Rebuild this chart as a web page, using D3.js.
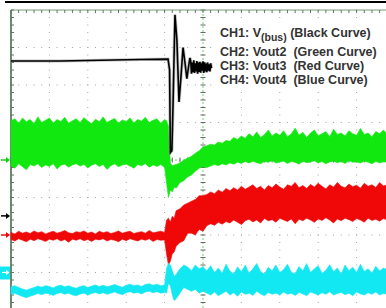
<!DOCTYPE html>
<html><head><meta charset="utf-8">
<script src="https://cdn.jsdelivr.net/npm/d3@7"></script>
<style>html,body{margin:0;padding:0;background:#fff;overflow:hidden}svg{display:block}</style>
</head><body>
<svg id="c" width="386" height="308"></svg>
<script>
// ---- data (screen divisions: time -5..5, amplitude -4..4) ----
const ch1Time = [-5,-3.72,-2.68,-1.64,-0.91,-0.87,-0.85,-0.81,-0.78,-0.73,-0.68,-0.625,-0.57,-0.52,-0.47,-0.42,-0.36,-0.34,
  -0.32,-0.30,-0.28,-0.26,-0.24,-0.22,-0.20,-0.18,-0.16,-0.14,-0.12,-0.10,-0.08,-0.06,-0.04,-0.02,0.0,0.02,0.04,0.06,0.08,0.10,0.12,0.14,0.16,0.18,0.20,0.22];
const ch1Value = [2.64,2.64,2.66,2.68,2.69,2.4,0.2,0.25,1.5,3.87,3.2,1.55,2.27,3.0,2.6,2.17,2.6,2.72,
  2.64,2.3,2.6,2.34,2.66,2.32,2.58,2.36,2.64,2.3,2.6,2.35,2.62,2.33,2.58,2.38,2.63,2.32,2.6,2.36,2.57,2.34,2.6,2.38,2.55,2.36,2.58,2.45];

const time = [
  -5.0,-4.9,-4.8,-4.7,-4.6,-4.5,-4.4,-4.3,-4.2,-4.1,-4.0,-3.9,-3.8,-3.7,-3.6,-3.5,-3.4,-3.3,-3.2,-3.1,
  -3.0,-2.9,-2.8,-2.7,-2.6,-2.5,-2.4,-2.3,-2.2,-2.1,-2.0,-1.9,-1.8,-1.7,-1.6,-1.5,-1.4,-1.3,-1.2,-1.1,-1.0,
  -0.95,-0.9,-0.85,-0.8,-0.75,-0.7,-0.6,-0.5,-0.4,-0.3,-0.2,-0.1,0.0,
  0.1,0.2,0.3,0.4,0.5,0.6,0.7,0.8,0.9,1.0,1.1,1.2,1.3,1.4,1.5,1.6,1.7,1.8,1.9,2.0,
  2.1,2.2,2.3,2.4,2.5,2.6,2.7,2.8,2.9,3.0,3.1,3.2,3.3,3.4,3.5,3.6,3.7,3.8,3.9,4.0,
  4.1,4.2,4.3,4.4,4.5,4.6,4.7,4.8];

const ch2Max = [
  1.05,1.1,0.98,1.12,1.02,1.08,0.97,1.15,1.0,1.06,1.12,0.99,1.08,1.03,1.14,0.98,1.05,1.1,1.0,1.13,
  1.04,0.97,1.09,1.02,1.15,1.0,1.06,1.11,0.98,1.07,1.03,1.12,0.99,1.08,1.04,1.14,1.0,1.06,1.1,0.98,1.08,
  1.05,0.9,-0.08,-0.15,-0.13,-0.12,-0.08,0.0,0.05,0.1,0.18,0.25,0.35,
  0.38,0.42,0.4,0.48,0.45,0.52,0.5,0.6,0.55,0.64,0.58,0.7,0.62,0.75,0.6,0.68,0.8,0.64,0.72,0.66,
  0.78,0.62,0.7,0.85,0.66,0.74,0.6,0.72,0.8,0.65,0.7,0.76,0.62,0.82,0.68,0.72,0.64,0.78,0.7,0.66,
  0.84,0.68,0.72,0.62,0.76,0.7,0.8,0.68];
const ch2Min = [
  -0.15,-0.22,-0.1,-0.18,-0.26,-0.12,-0.16,-0.1,-0.2,-0.13,-0.17,-0.1,-0.24,-0.14,-0.11,-0.19,-0.13,-0.1,-0.16,-0.12,
  -0.21,-0.14,-0.1,-0.17,-0.12,-0.25,-0.15,-0.1,-0.18,-0.13,-0.11,-0.16,-0.22,-0.12,-0.15,-0.1,-0.19,-0.13,-0.17,-0.12,-0.2,
  -0.6,-1.0,-0.8,-0.85,-0.72,-0.75,-0.6,-0.55,-0.45,-0.4,-0.3,-0.22,-0.18,
  -0.2,-0.16,-0.12,-0.15,-0.1,-0.13,-0.08,-0.11,-0.06,-0.09,-0.04,-0.08,-0.03,-0.07,-0.1,-0.04,-0.06,-0.02,-0.08,-0.05,
  -0.03,-0.09,-0.04,-0.06,-0.11,-0.03,-0.07,-0.05,-0.02,-0.08,-0.04,-0.1,-0.05,-0.03,-0.07,-0.04,-0.09,-0.02,-0.06,-0.05,
  -0.08,-0.03,-0.06,-0.1,-0.04,-0.07,-0.05,-0.06];

const ch3Max = [
  -1.93,-1.97,-1.9,-1.95,-1.92,-1.96,-1.89,-1.94,-1.91,-1.97,-1.93,-1.9,-1.95,-1.92,-1.88,-1.94,-1.96,-1.91,-1.93,-1.89,
  -1.95,-1.92,-1.97,-1.9,-1.94,-1.91,-1.96,-1.93,-1.89,-1.95,-1.92,-1.9,-1.96,-1.93,-1.91,-1.95,-1.88,-1.94,-1.92,-1.9,-1.93,
  -1.6,-1.55,-1.65,-1.5,-1.55,-1.35,-1.3,-1.2,-1.15,-1.1,-1.05,-0.95,-0.95,
  -0.92,-0.85,-0.9,-0.8,-0.86,-0.76,-0.82,-0.74,-0.8,-0.7,-0.78,-0.72,-0.66,-0.76,-0.7,-0.8,-0.68,-0.74,-0.64,-0.72,
  -0.78,-0.66,-0.7,-0.6,-0.74,-0.68,-0.76,-0.65,-0.72,-0.62,-0.7,-0.77,-0.66,-0.72,-0.6,-0.7,-0.74,-0.64,-0.71,-0.67,
  -0.75,-0.62,-0.7,-0.66,-0.73,-0.6,-0.69,-0.66];
const ch3Min = [
  -2.12,-2.16,-2.1,-2.14,-2.18,-2.11,-2.15,-2.1,-2.13,-2.17,-2.11,-2.14,-2.1,-2.16,-2.12,-2.19,-2.11,-2.14,-2.1,-2.15,
  -2.12,-2.17,-2.11,-2.13,-2.1,-2.16,-2.12,-2.14,-2.18,-2.11,-2.15,-2.1,-2.13,-2.16,-2.11,-2.14,-2.1,-2.17,-2.12,-2.14,-2.13,
  -2.5,-2.8,-2.7,-2.5,-2.45,-2.3,-2.2,-2.15,-1.95,-1.95,-2.0,-1.85,-1.9,
  -1.75,-1.7,-1.74,-1.66,-1.71,-1.64,-1.68,-1.6,-1.66,-1.72,-1.62,-1.58,-1.65,-1.6,-1.68,-1.56,-1.62,-1.59,-1.66,-1.55,
  -1.6,-1.64,-1.57,-1.7,-1.58,-1.62,-1.55,-1.6,-1.66,-1.57,-1.61,-1.54,-1.6,-1.68,-1.57,-1.62,-1.55,-1.59,-1.64,-1.56,
  -1.6,-1.66,-1.55,-1.61,-1.58,-1.63,-1.56,-1.6];

const ch4Max = [
  -3.38,-3.35,-3.4,-3.44,-3.47,-3.43,-3.4,-3.36,-3.39,-3.35,-3.37,-3.41,-3.36,-3.34,-3.38,-3.35,-3.39,-3.42,-3.37,-3.35,
  -3.4,-3.36,-3.33,-3.37,-3.34,-3.38,-3.35,-3.32,-3.36,-3.39,-3.34,-3.31,-3.35,-3.33,-3.37,-3.32,-3.3,-3.34,-3.31,-3.35,-3.33,
  -2.9,-2.75,-2.8,-2.95,-3.1,-3.05,-2.9,-2.8,-2.85,-2.95,-2.8,-2.9,-2.85,
  -2.95,-2.82,-3.0,-2.88,-3.02,-2.78,-2.96,-3.04,-2.85,-2.98,-2.8,-3.02,-2.9,-2.76,-2.98,-3.04,-2.86,-2.95,-2.8,-3.0,
  -2.92,-2.78,-2.99,-3.03,-2.84,-2.96,-2.76,-3.0,-2.9,-2.82,-3.02,-2.94,-2.79,-2.98,-2.88,-3.04,-2.8,-2.95,-2.86,-3.0,
  -2.78,-2.97,-2.9,-3.02,-2.83,-2.96,-2.88,-2.92];
const ch4Min = [
  -3.58,-3.55,-3.6,-3.64,-3.67,-3.63,-3.6,-3.56,-3.59,-3.55,-3.57,-3.61,-3.56,-3.54,-3.58,-3.55,-3.6,-3.62,-3.57,-3.55,
  -3.6,-3.56,-3.53,-3.57,-3.54,-3.58,-3.55,-3.52,-3.56,-3.59,-3.54,-3.51,-3.55,-3.53,-3.57,-3.52,-3.5,-3.54,-3.51,-3.55,-3.53,
  -3.55,-3.3,-3.35,-3.6,-3.75,-3.7,-3.55,-3.4,-3.45,-3.5,-3.45,-3.55,-3.5,
  -3.55,-3.6,-3.52,-3.62,-3.56,-3.5,-3.6,-3.54,-3.63,-3.52,-3.58,-3.55,-3.61,-3.5,-3.57,-3.62,-3.53,-3.58,-3.55,-3.6,
  -3.52,-3.58,-3.55,-3.61,-3.53,-3.57,-3.62,-3.52,-3.56,-3.6,-3.54,-3.58,-3.51,-3.6,-3.56,-3.53,-3.59,-3.55,-3.62,-3.52,
  -3.57,-3.6,-3.54,-3.58,-3.52,-3.6,-3.56,-3.58];

const groundLevels = [0, -1.49, -2.0, -3.0];   // CH2, CH1, CH3, CH4 markers
const legendLines = ["CH2: Vout2  (Green Curve)", "CH3: Vout3  (Red Curve)", "CH4: Vout4  (Blue Curve)"];

// ---- drawing ----
const svg = d3.select("#c");
const x = d3.scaleLinear().domain([-5, 5]).range([11, 395]);
const y = d3.scaleLinear().domain([-4, 4]).range([310, 10]);

// top black bar
svg.append("rect").attr("x", 5).attr("y", 1).attr("width", 381).attr("height", 2).attr("fill", "#000");

// grid dots
const g = svg.append("g");
const minorX = d3.range(-5, 5.001, 0.2), minorY = d3.range(-4, 4.001, 0.2);
for (let k = -4; k <= 4; k++) {
  if (k === 0) continue;
  g.selectAll(null).data(minorY).enter().append("rect")
    .attr("x", x(k) - 0.5).attr("y", d => y(d) - 0.5).attr("width", 1).attr("height", 1).attr("fill", "#9a9");
}
for (let k = -3; k <= 3; k++) {
  if (k === 0) continue;
  g.selectAll(null).data(minorX).enter().append("rect")
    .attr("x", d => x(d) - 0.5).attr("y", y(k) - 0.5).attr("width", 1).attr("height", 1).attr("fill", "#9a9");
}
// center axes with ticks
g.append("line").attr("x1", x(0)).attr("x2", x(0)).attr("y1", y(4)).attr("y2", y(-4))
  .attr("stroke", "#7c7").attr("stroke-dasharray", "2,2");
g.append("line").attr("x1", x(-5)).attr("x2", x(5)).attr("y1", y(0)).attr("y2", y(0))
  .attr("stroke", "#7c7").attr("stroke-dasharray", "2,2");
g.selectAll(null).data(minorY).enter().append("line")
  .attr("x1", x(0) - 2.5).attr("x2", x(0) + 2.5).attr("y1", d => y(d)).attr("y2", d => y(d)).attr("stroke", "#666");
g.selectAll(null).data(minorX).enter().append("line")
  .attr("y1", y(0) - 2.5).attr("y2", y(0) + 2.5).attr("x1", d => x(d)).attr("x2", d => x(d)).attr("stroke", "#666");
// frame
g.append("line").attr("x1", x(-5)).attr("x2", 386).attr("y1", y(4)).attr("y2", y(4)).attr("stroke", "#7a9a7a");
g.append("line").attr("x1", x(-5)).attr("x2", x(-5)).attr("y1", y(4)).attr("y2", 308).attr("stroke", "#3f5f3f").attr("stroke-width", 1.5);
g.selectAll(null).data(minorX).enter().append("line")
  .attr("x1", d => x(d)).attr("x2", d => x(d)).attr("y1", y(4)).attr("y2", y(4) + 3).attr("stroke", "#5a7a5a");
g.selectAll(null).data(minorY).enter().append("line")
  .attr("x1", x(-5)).attr("x2", x(-5) + 3).attr("y1", d => y(d)).attr("y2", d => y(d)).attr("stroke", "#5a7a5a");

// bands
const bands = [[ch2Max, ch2Min, "#10e810"], [ch3Max, ch3Min, "#f00808"], [ch4Max, ch4Min, "#12e8f2"]];
bands.forEach(([hi, lo, col]) => {
  const area = d3.area().x((d, i) => x(time[i])).y0((d, i) => y(lo[i])).y1((d, i) => y(hi[i]));
  svg.append("path").datum(time).attr("d", area).attr("fill", col).attr("stroke", col).attr("stroke-width", 0.6);
});

// CH1 line
const line1 = d3.line().x((d, i) => x(ch1Time[i])).y((d, i) => y(ch1Value[i]));
svg.append("path").datum(ch1Time).attr("d", line1).attr("fill", "none").attr("stroke", "#999").attr("stroke-width", 3.2).attr("opacity", 0.6);
svg.append("path").datum(ch1Time).attr("d", line1).attr("fill", "none").attr("stroke", "#000").attr("stroke-width", 1.6);

// ground markers
const mk = svg.append("g");
const mcol = ["#10d010", "#000", "#f00808"];
[0, 1, 2].forEach(i => {
  const yy = y(groundLevels[i]);
  mk.append("line").attr("x1", 1).attr("x2", 8).attr("y1", yy).attr("y2", yy).attr("stroke", mcol[i]).attr("stroke-width", 1.5);
  mk.append("path").attr("d", `M6,${yy - 3}L10,${yy}L6,${yy + 3}Z`).attr("fill", mcol[i]);
});
{
  const yy = y(groundLevels[3]);
  mk.append("rect").attr("x", 0).attr("y", yy - 6).attr("width", 10).attr("height", 13).attr("fill", "#12e8f2");
  mk.append("line").attr("x1", 2).attr("x2", 8).attr("y1", yy).attr("y2", yy).attr("stroke", "#fff").attr("stroke-width", 1.2);
  mk.append("path").attr("d", `M6,${yy - 2.5}L9.5,${yy}L6,${yy + 2.5}Z`).attr("fill", "#fff");
}

// legend
svg.append("rect").attr("x", 214).attr("y", 19).attr("width", 172).attr("height", 72).attr("fill", "#fff");
const leg = svg.append("g").attr("font-family", "Liberation Sans, Arial, sans-serif").attr("font-weight", "bold")
  .attr("fill", "#333").attr("font-size", 12.5);
const t1 = leg.append("text").attr("x", 220).attr("y", 37);
t1.append("tspan").text("CH1: V");
t1.append("tspan").attr("font-size", 10.5).attr("dy", 4).text("(bus)");
t1.append("tspan").attr("dy", -4).text(" (Black Curve)");
leg.selectAll(null).data(legendLines).enter().append("text")
  .attr("x", 220).attr("y", (d, i) => 56 + i * 14).attr("xml:space", "preserve").style("white-space", "pre").text(d => d);
</script>
</body></html>
